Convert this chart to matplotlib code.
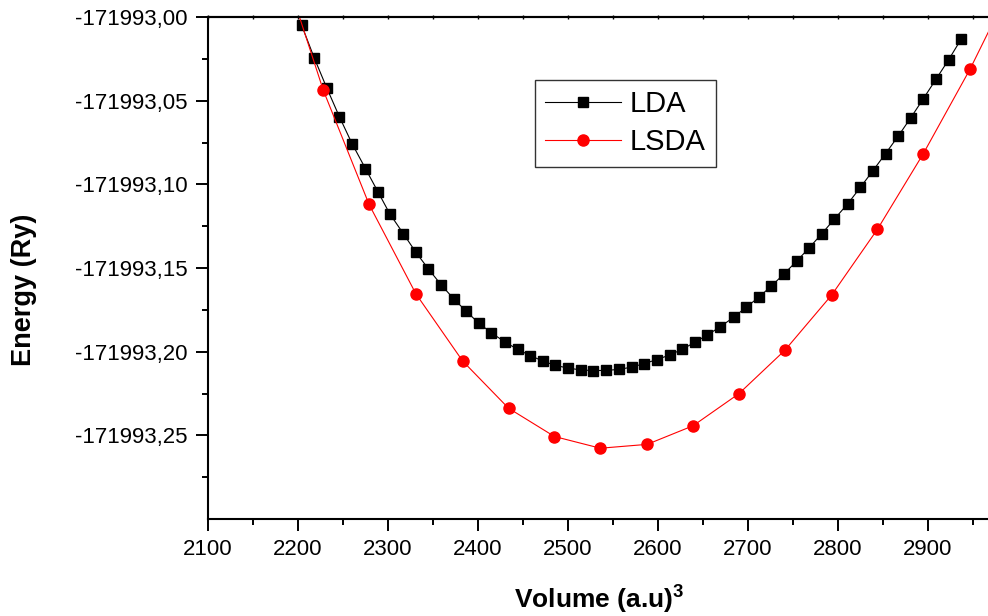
import numpy as np
import matplotlib
matplotlib.use('Agg')
import matplotlib.pyplot as plt
from matplotlib.ticker import MultipleLocator, FixedLocator, NullFormatter

plt.rcParams['font.family'] = ['Liberation Sans', 'DejaVu Sans']
plt.rcParams['mathtext.fontset'] = 'custom'
plt.rcParams['mathtext.rm'] = 'Liberation Sans'
plt.rcParams['mathtext.bf'] = 'Liberation Sans:bold'

E0 = -171993.0

# LDA: volume (a.u^3) and energy offset from -171993 Ry
lda_vol = [2204, 2218, 2232, 2246, 2260, 2275, 2289, 2302, 2317, 2331,
           2345, 2359, 2373, 2387, 2401, 2415, 2430, 2444, 2458, 2472,
           2486, 2500, 2514, 2528, 2542, 2557, 2571, 2585, 2599, 2613,
           2627, 2641, 2655, 2669, 2684, 2698, 2712, 2726, 2740, 2754,
           2768, 2782, 2796, 2811, 2825, 2839, 2853, 2867, 2881, 2895,
           2909, 2923, 2937]
lda_de = [-0.0048, -0.0244, -0.0424, -0.0596, -0.0756, -0.0906, -0.1046, -0.1176, -0.1294, -0.1406,
          -0.1506, -0.1600, -0.1684, -0.1759, -0.1830, -0.1888, -0.1942, -0.1986, -0.2023, -0.2056,
          -0.2082, -0.2098, -0.2109, -0.2113, -0.2112, -0.2106, -0.2092, -0.2071, -0.2047, -0.2020,
          -0.1986, -0.1944, -0.1900, -0.1852, -0.1795, -0.1735, -0.1675, -0.1608, -0.1536, -0.1460,
          -0.1380, -0.1296, -0.1208, -0.1116, -0.1018, -0.0918, -0.0816, -0.0712, -0.0602, -0.0488,
          -0.0372, -0.0256, -0.0132]

# LSDA (first and last points fall outside the visible window)
lsda_vol = [2177, 2228, 2279, 2331, 2383, 2434, 2485, 2536, 2588, 2639,
            2690, 2741, 2793, 2844, 2895, 2947, 2998]
lsda_de = [0.0408, -0.0436, -0.1120, -0.1654, -0.2056, -0.2338, -0.2507, -0.2577, -0.2554, -0.2443,
           -0.2251, -0.1992, -0.1662, -0.1268, -0.0816, -0.0310, 0.0246]

ytick_vals = [0.00, -0.05, -0.10, -0.15, -0.20, -0.25]
ytick_labels = ['-171993,00', '-171993,05', '-171993,10', '-171993,15', '-171993,20', '-171993,25']
xtick_vals = [2100, 2200, 2300, 2400, 2500, 2600, 2700, 2800, 2900]

lda_e = E0 + np.array(lda_de)
lsda_e = E0 + np.array(lsda_de)

fig = plt.figure(figsize=(9.88, 6.16), dpi=100)
ax = fig.add_axes([208/988, 1 - 519/616, 1 - 208/988 + 0.002, (519 - 17)/616])

ax.plot(lda_vol, lda_e, color='black', lw=0.8, marker='s', ms=7.2, label='LDA')
ax.plot(lsda_vol, lsda_e, color='#ff0000', lw=0.8, marker='o', ms=8, label='LSDA')

ax.set_xlim(2100, 2969)
ax.set_ylim(E0 - 0.30, E0)

ax.set_xticks(xtick_vals)
ax.set_xticklabels([str(t) for t in xtick_vals])
ax.xaxis.set_minor_locator(MultipleLocator(50))
ax.set_yticks([E0 + v for v in ytick_vals])
ax.set_yticklabels(ytick_labels)
ax.yaxis.set_minor_locator(FixedLocator([E0 + v - 0.025 for v in ytick_vals]))

ax.tick_params(which='major', direction='out', length=8.6, width=1.4, labelsize=16, pad=6)
ax.tick_params(which='minor', direction='out', length=4.5, width=1.4)
ax.tick_params(top=False, right=False, which='both')

# small ticks along the top edge
top = ax.secondary_xaxis('top')
top.set_xticks(xtick_vals)
top.xaxis.set_minor_locator(MultipleLocator(50))
top.xaxis.set_major_formatter(NullFormatter())
top.tick_params(which='both', direction='inout', length=3, width=1.0)
top.spines['top'].set_linewidth(1.5)

for s in ['left', 'bottom', 'top']:
    ax.spines[s].set_linewidth(1.5)
ax.spines['right'].set_visible(False)

ax.set_xlabel(r'Volume (a.u)$^{\mathbf{3}}$', fontsize=19, fontweight='bold')
ax.set_ylabel('Energy (Ry)', fontsize=19.5, fontweight='bold')
ax.xaxis.set_label_coords(0.5, -0.125)
ax.yaxis.set_label_coords(-0.219, (519 - 290)/502)

leg = ax.legend(loc='upper left', bbox_to_anchor=((534 - 208)/780, (519 - 80)/502),
                fontsize=21, frameon=True, fancybox=False, borderaxespad=0,
                handlelength=2.6, handletextpad=0.3, labelspacing=0.35, borderpad=0.35)
leg.get_frame().set_edgecolor('black')
leg.get_frame().set_linewidth(1.0)

fig.savefig('out.png', dpi=100)
